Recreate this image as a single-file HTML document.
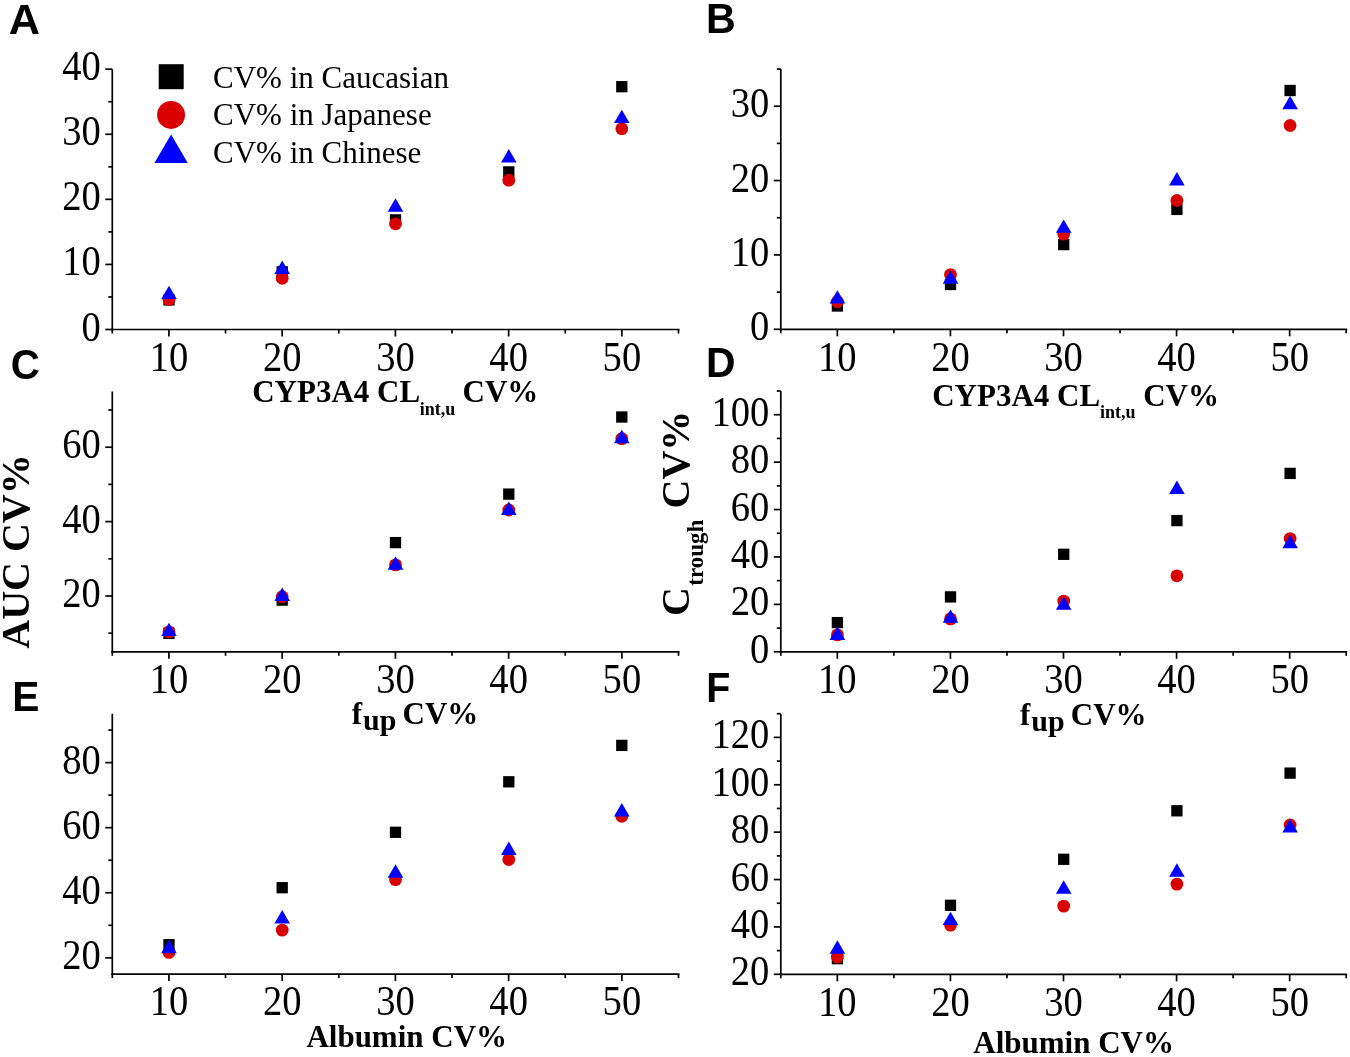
<!DOCTYPE html>
<html><head><meta charset="utf-8"><style>
html,body{margin:0;padding:0;background:#fff;}
body{width:1350px;height:1057px;overflow:hidden;}
svg{display:block;will-change:transform;}
.tk{font-family:"Liberation Serif",serif;font-size:41.5px;fill:#000;stroke:none;}
.lg{font-family:"Liberation Serif",serif;font-size:31px;fill:#000;}
.ti{font-family:"Liberation Serif",serif;font-weight:bold;font-size:31px;fill:#000;}
.pl{font-family:"Liberation Sans",sans-serif;font-weight:bold;font-size:43.3px;fill:#000;}
</style></head><body>
<svg width="1350" height="1057" viewBox="0 0 1350 1057">
<rect width="1350" height="1057" fill="#fff"/>
<g stroke="#000" stroke-width="1.7" fill="none" stroke-linecap="butt">
<line x1="112.3" y1="69.2" x2="112.3" y2="330.5" />
<line x1="111.3" y1="329.5" x2="679.5" y2="329.5" />
<line x1="112.30" y1="329.5" x2="112.30" y2="333.5" />
<line x1="168.92" y1="329.5" x2="168.92" y2="336.5" />
<text class="tk" transform="translate(168.92 370.80) scale(0.929 1)" text-anchor="middle">10</text>
<line x1="225.54" y1="329.5" x2="225.54" y2="333.5" />
<line x1="282.16" y1="329.5" x2="282.16" y2="336.5" />
<text class="tk" transform="translate(282.16 370.80) scale(0.929 1)" text-anchor="middle">20</text>
<line x1="338.78" y1="329.5" x2="338.78" y2="333.5" />
<line x1="395.40" y1="329.5" x2="395.40" y2="336.5" />
<text class="tk" transform="translate(395.40 370.80) scale(0.929 1)" text-anchor="middle">30</text>
<line x1="452.02" y1="329.5" x2="452.02" y2="333.5" />
<line x1="508.64" y1="329.5" x2="508.64" y2="336.5" />
<text class="tk" transform="translate(508.64 370.80) scale(0.929 1)" text-anchor="middle">40</text>
<line x1="565.26" y1="329.5" x2="565.26" y2="333.5" />
<line x1="621.88" y1="329.5" x2="621.88" y2="336.5" />
<text class="tk" transform="translate(621.88 370.80) scale(0.929 1)" text-anchor="middle">50</text>
<line x1="678.50" y1="329.5" x2="678.50" y2="333.5" />
<line x1="105.3" y1="329.50" x2="112.3" y2="329.50" />
<text class="tk" transform="translate(100.80 340.50) scale(0.929 1)" text-anchor="end">0</text>
<line x1="108.3" y1="296.96" x2="112.3" y2="296.96" />
<line x1="105.3" y1="264.43" x2="112.3" y2="264.43" />
<text class="tk" transform="translate(100.80 275.43) scale(0.929 1)" text-anchor="end">10</text>
<line x1="108.3" y1="231.89" x2="112.3" y2="231.89" />
<line x1="105.3" y1="199.35" x2="112.3" y2="199.35" />
<text class="tk" transform="translate(100.80 210.35) scale(0.929 1)" text-anchor="end">20</text>
<line x1="108.3" y1="166.81" x2="112.3" y2="166.81" />
<line x1="105.3" y1="134.27" x2="112.3" y2="134.27" />
<text class="tk" transform="translate(100.80 145.27) scale(0.929 1)" text-anchor="end">30</text>
<line x1="108.3" y1="101.74" x2="112.3" y2="101.74" />
<line x1="105.3" y1="69.20" x2="112.3" y2="69.20" />
<text class="tk" transform="translate(100.80 80.20) scale(0.929 1)" text-anchor="end">40</text>
<line x1="780.8" y1="69.0" x2="780.8" y2="330.3" />
<line x1="779.8" y1="329.3" x2="1347.2" y2="329.3" />
<line x1="780.80" y1="329.3" x2="780.80" y2="333.3" />
<line x1="837.34" y1="329.3" x2="837.34" y2="336.3" />
<text class="tk" transform="translate(837.34 370.60) scale(0.929 1)" text-anchor="middle">10</text>
<line x1="893.88" y1="329.3" x2="893.88" y2="333.3" />
<line x1="950.42" y1="329.3" x2="950.42" y2="336.3" />
<text class="tk" transform="translate(950.42 370.60) scale(0.929 1)" text-anchor="middle">20</text>
<line x1="1006.96" y1="329.3" x2="1006.96" y2="333.3" />
<line x1="1063.50" y1="329.3" x2="1063.50" y2="336.3" />
<text class="tk" transform="translate(1063.50 370.60) scale(0.929 1)" text-anchor="middle">30</text>
<line x1="1120.04" y1="329.3" x2="1120.04" y2="333.3" />
<line x1="1176.58" y1="329.3" x2="1176.58" y2="336.3" />
<text class="tk" transform="translate(1176.58 370.60) scale(0.929 1)" text-anchor="middle">40</text>
<line x1="1233.12" y1="329.3" x2="1233.12" y2="333.3" />
<line x1="1289.66" y1="329.3" x2="1289.66" y2="336.3" />
<text class="tk" transform="translate(1289.66 370.60) scale(0.929 1)" text-anchor="middle">50</text>
<line x1="1346.20" y1="329.3" x2="1346.20" y2="333.3" />
<line x1="773.8" y1="329.30" x2="780.8" y2="329.30" />
<text class="tk" transform="translate(769.30 340.30) scale(0.929 1)" text-anchor="end">0</text>
<line x1="776.8" y1="292.11" x2="780.8" y2="292.11" />
<line x1="773.8" y1="254.93" x2="780.8" y2="254.93" />
<text class="tk" transform="translate(769.30 265.93) scale(0.929 1)" text-anchor="end">10</text>
<line x1="776.8" y1="217.74" x2="780.8" y2="217.74" />
<line x1="773.8" y1="180.56" x2="780.8" y2="180.56" />
<text class="tk" transform="translate(769.30 191.56) scale(0.929 1)" text-anchor="end">20</text>
<line x1="776.8" y1="143.37" x2="780.8" y2="143.37" />
<line x1="773.8" y1="106.19" x2="780.8" y2="106.19" />
<text class="tk" transform="translate(769.30 117.19) scale(0.929 1)" text-anchor="end">30</text>
<line x1="776.8" y1="69.00" x2="780.8" y2="69.00" />
<line x1="112.3" y1="391.4" x2="112.3" y2="652.8" />
<line x1="111.3" y1="651.8" x2="679.5" y2="651.8" />
<line x1="112.30" y1="651.8" x2="112.30" y2="655.8" />
<line x1="168.92" y1="651.8" x2="168.92" y2="658.8" />
<text class="tk" transform="translate(168.92 693.10) scale(0.929 1)" text-anchor="middle">10</text>
<line x1="225.54" y1="651.8" x2="225.54" y2="655.8" />
<line x1="282.16" y1="651.8" x2="282.16" y2="658.8" />
<text class="tk" transform="translate(282.16 693.10) scale(0.929 1)" text-anchor="middle">20</text>
<line x1="338.78" y1="651.8" x2="338.78" y2="655.8" />
<line x1="395.40" y1="651.8" x2="395.40" y2="658.8" />
<text class="tk" transform="translate(395.40 693.10) scale(0.929 1)" text-anchor="middle">30</text>
<line x1="452.02" y1="651.8" x2="452.02" y2="655.8" />
<line x1="508.64" y1="651.8" x2="508.64" y2="658.8" />
<text class="tk" transform="translate(508.64 693.10) scale(0.929 1)" text-anchor="middle">40</text>
<line x1="565.26" y1="651.8" x2="565.26" y2="655.8" />
<line x1="621.88" y1="651.8" x2="621.88" y2="658.8" />
<text class="tk" transform="translate(621.88 693.10) scale(0.929 1)" text-anchor="middle">50</text>
<line x1="678.50" y1="651.8" x2="678.50" y2="655.8" />
<line x1="108.3" y1="633.20" x2="112.3" y2="633.20" />
<line x1="105.3" y1="596.00" x2="112.3" y2="596.00" />
<text class="tk" transform="translate(100.80 607.00) scale(0.929 1)" text-anchor="end">20</text>
<line x1="108.3" y1="558.80" x2="112.3" y2="558.80" />
<line x1="105.3" y1="521.60" x2="112.3" y2="521.60" />
<text class="tk" transform="translate(100.80 532.60) scale(0.929 1)" text-anchor="end">40</text>
<line x1="108.3" y1="484.40" x2="112.3" y2="484.40" />
<line x1="105.3" y1="447.20" x2="112.3" y2="447.20" />
<text class="tk" transform="translate(100.80 458.20) scale(0.929 1)" text-anchor="end">60</text>
<line x1="108.3" y1="410.00" x2="112.3" y2="410.00" />
<line x1="780.8" y1="391.0" x2="780.8" y2="652.8" />
<line x1="779.8" y1="651.8" x2="1347.2" y2="651.8" />
<line x1="780.80" y1="651.8" x2="780.80" y2="655.8" />
<line x1="837.34" y1="651.8" x2="837.34" y2="658.8" />
<text class="tk" transform="translate(837.34 693.10) scale(0.929 1)" text-anchor="middle">10</text>
<line x1="893.88" y1="651.8" x2="893.88" y2="655.8" />
<line x1="950.42" y1="651.8" x2="950.42" y2="658.8" />
<text class="tk" transform="translate(950.42 693.10) scale(0.929 1)" text-anchor="middle">20</text>
<line x1="1006.96" y1="651.8" x2="1006.96" y2="655.8" />
<line x1="1063.50" y1="651.8" x2="1063.50" y2="658.8" />
<text class="tk" transform="translate(1063.50 693.10) scale(0.929 1)" text-anchor="middle">30</text>
<line x1="1120.04" y1="651.8" x2="1120.04" y2="655.8" />
<line x1="1176.58" y1="651.8" x2="1176.58" y2="658.8" />
<text class="tk" transform="translate(1176.58 693.10) scale(0.929 1)" text-anchor="middle">40</text>
<line x1="1233.12" y1="651.8" x2="1233.12" y2="655.8" />
<line x1="1289.66" y1="651.8" x2="1289.66" y2="658.8" />
<text class="tk" transform="translate(1289.66 693.10) scale(0.929 1)" text-anchor="middle">50</text>
<line x1="1346.20" y1="651.8" x2="1346.20" y2="655.8" />
<line x1="773.8" y1="651.80" x2="780.8" y2="651.80" />
<text class="tk" transform="translate(769.30 662.80) scale(0.929 1)" text-anchor="end">0</text>
<line x1="776.8" y1="628.09" x2="780.8" y2="628.09" />
<line x1="773.8" y1="604.38" x2="780.8" y2="604.38" />
<text class="tk" transform="translate(769.30 615.38) scale(0.929 1)" text-anchor="end">20</text>
<line x1="776.8" y1="580.67" x2="780.8" y2="580.67" />
<line x1="773.8" y1="556.96" x2="780.8" y2="556.96" />
<text class="tk" transform="translate(769.30 567.96) scale(0.929 1)" text-anchor="end">40</text>
<line x1="776.8" y1="533.25" x2="780.8" y2="533.25" />
<line x1="773.8" y1="509.55" x2="780.8" y2="509.55" />
<text class="tk" transform="translate(769.30 520.55) scale(0.929 1)" text-anchor="end">60</text>
<line x1="776.8" y1="485.84" x2="780.8" y2="485.84" />
<line x1="773.8" y1="462.13" x2="780.8" y2="462.13" />
<text class="tk" transform="translate(769.30 473.13) scale(0.929 1)" text-anchor="end">80</text>
<line x1="776.8" y1="438.42" x2="780.8" y2="438.42" />
<line x1="773.8" y1="414.71" x2="780.8" y2="414.71" />
<text class="tk" transform="translate(769.30 425.71) scale(0.929 1)" text-anchor="end">100</text>
<line x1="776.8" y1="391.00" x2="780.8" y2="391.00" />
<line x1="112.3" y1="713.8" x2="112.3" y2="975.1" />
<line x1="111.3" y1="974.1" x2="679.5" y2="974.1" />
<line x1="112.30" y1="974.1" x2="112.30" y2="978.1" />
<line x1="168.92" y1="974.1" x2="168.92" y2="981.1" />
<text class="tk" transform="translate(168.92 1015.40) scale(0.929 1)" text-anchor="middle">10</text>
<line x1="225.54" y1="974.1" x2="225.54" y2="978.1" />
<line x1="282.16" y1="974.1" x2="282.16" y2="981.1" />
<text class="tk" transform="translate(282.16 1015.40) scale(0.929 1)" text-anchor="middle">20</text>
<line x1="338.78" y1="974.1" x2="338.78" y2="978.1" />
<line x1="395.40" y1="974.1" x2="395.40" y2="981.1" />
<text class="tk" transform="translate(395.40 1015.40) scale(0.929 1)" text-anchor="middle">30</text>
<line x1="452.02" y1="974.1" x2="452.02" y2="978.1" />
<line x1="508.64" y1="974.1" x2="508.64" y2="981.1" />
<text class="tk" transform="translate(508.64 1015.40) scale(0.929 1)" text-anchor="middle">40</text>
<line x1="565.26" y1="974.1" x2="565.26" y2="978.1" />
<line x1="621.88" y1="974.1" x2="621.88" y2="981.1" />
<text class="tk" transform="translate(621.88 1015.40) scale(0.929 1)" text-anchor="middle">50</text>
<line x1="678.50" y1="974.1" x2="678.50" y2="978.1" />
<line x1="105.3" y1="957.83" x2="112.3" y2="957.83" />
<text class="tk" transform="translate(100.80 968.83) scale(0.929 1)" text-anchor="end">20</text>
<line x1="108.3" y1="925.29" x2="112.3" y2="925.29" />
<line x1="105.3" y1="892.76" x2="112.3" y2="892.76" />
<text class="tk" transform="translate(100.80 903.76) scale(0.929 1)" text-anchor="end">40</text>
<line x1="108.3" y1="860.22" x2="112.3" y2="860.22" />
<line x1="105.3" y1="827.68" x2="112.3" y2="827.68" />
<text class="tk" transform="translate(100.80 838.68) scale(0.929 1)" text-anchor="end">60</text>
<line x1="108.3" y1="795.14" x2="112.3" y2="795.14" />
<line x1="105.3" y1="762.61" x2="112.3" y2="762.61" />
<text class="tk" transform="translate(100.80 773.61) scale(0.929 1)" text-anchor="end">80</text>
<line x1="108.3" y1="730.07" x2="112.3" y2="730.07" />
<line x1="780.8" y1="713.7" x2="780.8" y2="975.3" />
<line x1="779.8" y1="974.3" x2="1347.2" y2="974.3" />
<line x1="780.80" y1="974.3" x2="780.80" y2="978.3" />
<line x1="837.34" y1="974.3" x2="837.34" y2="981.3" />
<text class="tk" transform="translate(837.34 1015.60) scale(0.929 1)" text-anchor="middle">10</text>
<line x1="893.88" y1="974.3" x2="893.88" y2="978.3" />
<line x1="950.42" y1="974.3" x2="950.42" y2="981.3" />
<text class="tk" transform="translate(950.42 1015.60) scale(0.929 1)" text-anchor="middle">20</text>
<line x1="1006.96" y1="974.3" x2="1006.96" y2="978.3" />
<line x1="1063.50" y1="974.3" x2="1063.50" y2="981.3" />
<text class="tk" transform="translate(1063.50 1015.60) scale(0.929 1)" text-anchor="middle">30</text>
<line x1="1120.04" y1="974.3" x2="1120.04" y2="978.3" />
<line x1="1176.58" y1="974.3" x2="1176.58" y2="981.3" />
<text class="tk" transform="translate(1176.58 1015.60) scale(0.929 1)" text-anchor="middle">40</text>
<line x1="1233.12" y1="974.3" x2="1233.12" y2="978.3" />
<line x1="1289.66" y1="974.3" x2="1289.66" y2="981.3" />
<text class="tk" transform="translate(1289.66 1015.60) scale(0.929 1)" text-anchor="middle">50</text>
<line x1="1346.20" y1="974.3" x2="1346.20" y2="978.3" />
<line x1="773.8" y1="974.30" x2="780.8" y2="974.30" />
<text class="tk" transform="translate(769.30 985.30) scale(0.929 1)" text-anchor="end">20</text>
<line x1="776.8" y1="950.61" x2="780.8" y2="950.61" />
<line x1="773.8" y1="926.92" x2="780.8" y2="926.92" />
<text class="tk" transform="translate(769.30 937.92) scale(0.929 1)" text-anchor="end">40</text>
<line x1="776.8" y1="903.23" x2="780.8" y2="903.23" />
<line x1="773.8" y1="879.54" x2="780.8" y2="879.54" />
<text class="tk" transform="translate(769.30 890.54) scale(0.929 1)" text-anchor="end">60</text>
<line x1="776.8" y1="855.85" x2="780.8" y2="855.85" />
<line x1="773.8" y1="832.15" x2="780.8" y2="832.15" />
<text class="tk" transform="translate(769.30 843.15) scale(0.929 1)" text-anchor="end">80</text>
<line x1="776.8" y1="808.46" x2="780.8" y2="808.46" />
<line x1="773.8" y1="784.77" x2="780.8" y2="784.77" />
<text class="tk" transform="translate(769.30 795.77) scale(0.929 1)" text-anchor="end">100</text>
<line x1="776.8" y1="761.08" x2="780.8" y2="761.08" />
<line x1="773.8" y1="737.39" x2="780.8" y2="737.39" />
<text class="tk" transform="translate(769.30 748.39) scale(0.929 1)" text-anchor="end">120</text>
<line x1="776.8" y1="713.70" x2="780.8" y2="713.70" />
</g>
<g stroke="none">
<text class="pl" transform="translate(8.72 34.1) scale(1.0 1)">A</text>
<text class="pl" transform="translate(706.05 32.6) scale(0.95 1)">B</text>
<text class="pl" transform="translate(10.75 379.3) scale(0.93 1)">C</text>
<text class="pl" transform="translate(706.06 376.7) scale(0.945 1)">D</text>
<text class="pl" transform="translate(12.28 710.9) scale(0.94 1)">E</text>
<text class="pl" transform="translate(706.16 702.4) scale(0.91 1)">F</text>
<rect x="158.7" y="64.2" width="25" height="25" fill="#000"/>
<circle cx="171.05" cy="114.95" r="13.95" fill="#d80000"/>
<path d="M171.1 134.4 L187.8 163 L154.4 163 Z" fill="#0000ff"/>
<text class="lg" x="213" y="87.8">CV% in Caucasian</text>
<text class="lg" x="213" y="125.1">CV% in Japanese</text>
<text class="lg" x="213" y="162.6">CV% in Chinese</text>
<text class="ti" x="252.2" y="402">CYP3A4 CL</text><text class="ti" style="font-size:18px" x="419.7" y="414.6">int,u</text><text class="ti" x="462.5" y="402">CV%</text>
<text class="ti" x="932.2" y="406">CYP3A4 CL</text><text class="ti" style="font-size:18px" x="1099.9" y="418.1">int,u</text><text class="ti" x="1143.2" y="406">CV%</text>
<text class="ti" x="351.7" y="724.1">f</text><text class="ti" style="font-size:30px" x="363.0" y="730.3">up</text><text class="ti" x="402.6" y="724.1">CV%</text>
<text class="ti" x="1019.9" y="724.6">f</text><text class="ti" style="font-size:30px" x="1031.3" y="730.9">up</text><text class="ti" x="1070.8" y="724.6">CV%</text>
<text class="ti" x="306.4" y="1046.6">Albumin CV%</text>
<text class="ti" x="973.3" y="1053.4">Albumin CV%</text>
<text class="ti" style="font-size:40px" transform="translate(29.2 648.7) rotate(-90)">AUC CV%</text>
<text class="ti" style="font-size:40px" transform="translate(689 616.1) rotate(-90)">C</text>
<text class="ti" style="font-size:23px" transform="translate(702.6 585.7) rotate(-90)">trough</text>
<text class="ti" style="font-size:40px" transform="translate(689 508.5) rotate(-90)">CV%</text>
<rect x="163.35" y="294.25" width="11.3" height="11.3" fill="#000"/>
<rect x="276.55" y="266.15" width="11.3" height="11.3" fill="#000"/>
<rect x="389.85" y="214.25" width="11.3" height="11.3" fill="#000"/>
<rect x="503.15" y="166.25" width="11.3" height="11.3" fill="#000"/>
<rect x="616.15" y="81.05" width="11.3" height="11.3" fill="#000"/>
<circle cx="169.00" cy="299.50" r="6.4" fill="#d80000"/>
<circle cx="282.20" cy="278.30" r="6.4" fill="#d80000"/>
<circle cx="395.50" cy="223.80" r="6.4" fill="#d80000"/>
<circle cx="508.80" cy="180.20" r="6.4" fill="#d80000"/>
<circle cx="621.80" cy="128.70" r="6.4" fill="#d80000"/>
<path d="M169.00 285.70 L176.80 299.10 L161.20 299.10 Z" fill="#0000ff"/>
<path d="M282.20 260.60 L290.00 274.00 L274.40 274.00 Z" fill="#0000ff"/>
<path d="M395.50 198.30 L403.30 211.70 L387.70 211.70 Z" fill="#0000ff"/>
<path d="M508.80 149.00 L516.60 162.40 L501.00 162.40 Z" fill="#0000ff"/>
<path d="M621.80 109.70 L629.60 123.10 L614.00 123.10 Z" fill="#0000ff"/>
<rect x="831.75" y="300.35" width="11.3" height="11.3" fill="#000"/>
<rect x="944.85" y="278.85" width="11.3" height="11.3" fill="#000"/>
<rect x="1058.05" y="238.95" width="11.3" height="11.3" fill="#000"/>
<rect x="1171.25" y="203.75" width="11.3" height="11.3" fill="#000"/>
<rect x="1284.45" y="84.85" width="11.3" height="11.3" fill="#000"/>
<circle cx="837.40" cy="301.60" r="6.4" fill="#d80000"/>
<circle cx="950.50" cy="274.60" r="6.4" fill="#d80000"/>
<circle cx="1063.70" cy="234.10" r="6.4" fill="#d80000"/>
<circle cx="1176.90" cy="200.50" r="6.4" fill="#d80000"/>
<circle cx="1290.10" cy="125.50" r="6.4" fill="#d80000"/>
<path d="M837.40 290.20 L845.20 303.60 L829.60 303.60 Z" fill="#0000ff"/>
<path d="M950.50 270.40 L958.30 283.80 L942.70 283.80 Z" fill="#0000ff"/>
<path d="M1063.70 219.40 L1071.50 232.80 L1055.90 232.80 Z" fill="#0000ff"/>
<path d="M1176.90 172.00 L1184.70 185.40 L1169.10 185.40 Z" fill="#0000ff"/>
<path d="M1290.10 95.80 L1297.90 109.20 L1282.30 109.20 Z" fill="#0000ff"/>
<rect x="163.35" y="627.75" width="11.3" height="11.3" fill="#000"/>
<rect x="276.55" y="594.45" width="11.3" height="11.3" fill="#000"/>
<rect x="389.85" y="536.95" width="11.3" height="11.3" fill="#000"/>
<rect x="503.15" y="488.45" width="11.3" height="11.3" fill="#000"/>
<rect x="616.15" y="411.35" width="11.3" height="11.3" fill="#000"/>
<circle cx="169.00" cy="631.80" r="6.4" fill="#d80000"/>
<circle cx="282.20" cy="596.70" r="6.4" fill="#d80000"/>
<circle cx="395.50" cy="564.90" r="6.4" fill="#d80000"/>
<circle cx="508.80" cy="510.00" r="6.4" fill="#d80000"/>
<circle cx="621.80" cy="438.60" r="6.4" fill="#d80000"/>
<path d="M169.00 622.70 L176.80 636.10 L161.20 636.10 Z" fill="#0000ff"/>
<path d="M282.20 587.60 L290.00 601.00 L274.40 601.00 Z" fill="#0000ff"/>
<path d="M395.50 556.30 L403.30 569.70 L387.70 569.70 Z" fill="#0000ff"/>
<path d="M508.80 501.50 L516.60 514.90 L501.00 514.90 Z" fill="#0000ff"/>
<path d="M621.80 429.80 L629.60 443.20 L614.00 443.20 Z" fill="#0000ff"/>
<rect x="831.75" y="616.95" width="11.3" height="11.3" fill="#000"/>
<rect x="944.85" y="591.25" width="11.3" height="11.3" fill="#000"/>
<rect x="1058.05" y="548.65" width="11.3" height="11.3" fill="#000"/>
<rect x="1171.25" y="514.95" width="11.3" height="11.3" fill="#000"/>
<rect x="1284.45" y="467.75" width="11.3" height="11.3" fill="#000"/>
<circle cx="837.40" cy="634.90" r="6.4" fill="#d80000"/>
<circle cx="950.50" cy="618.90" r="6.4" fill="#d80000"/>
<circle cx="1063.70" cy="601.10" r="6.4" fill="#d80000"/>
<circle cx="1176.90" cy="575.80" r="6.4" fill="#d80000"/>
<circle cx="1290.10" cy="538.60" r="6.4" fill="#d80000"/>
<path d="M837.40 626.50 L845.20 639.90 L829.60 639.90 Z" fill="#0000ff"/>
<path d="M950.50 609.40 L958.30 622.80 L942.70 622.80 Z" fill="#0000ff"/>
<path d="M1063.70 596.40 L1071.50 609.80 L1055.90 609.80 Z" fill="#0000ff"/>
<path d="M1176.90 480.50 L1184.70 493.90 L1169.10 493.90 Z" fill="#0000ff"/>
<path d="M1290.10 534.90 L1297.90 548.30 L1282.30 548.30 Z" fill="#0000ff"/>
<rect x="163.35" y="939.05" width="11.3" height="11.3" fill="#000"/>
<rect x="276.55" y="882.05" width="11.3" height="11.3" fill="#000"/>
<rect x="389.85" y="826.65" width="11.3" height="11.3" fill="#000"/>
<rect x="503.15" y="776.15" width="11.3" height="11.3" fill="#000"/>
<rect x="616.15" y="739.75" width="11.3" height="11.3" fill="#000"/>
<circle cx="169.00" cy="952.40" r="6.4" fill="#d80000"/>
<circle cx="282.20" cy="930.10" r="6.4" fill="#d80000"/>
<circle cx="395.50" cy="879.60" r="6.4" fill="#d80000"/>
<circle cx="508.80" cy="859.50" r="6.4" fill="#d80000"/>
<circle cx="621.80" cy="816.30" r="6.4" fill="#d80000"/>
<path d="M169.00 939.80 L176.80 953.20 L161.20 953.20 Z" fill="#0000ff"/>
<path d="M282.20 910.00 L290.00 923.40 L274.40 923.40 Z" fill="#0000ff"/>
<path d="M395.50 864.30 L403.30 877.70 L387.70 877.70 Z" fill="#0000ff"/>
<path d="M508.80 841.60 L516.60 855.00 L501.00 855.00 Z" fill="#0000ff"/>
<path d="M621.80 803.10 L629.60 816.50 L614.00 816.50 Z" fill="#0000ff"/>
<rect x="831.75" y="953.05" width="11.3" height="11.3" fill="#000"/>
<rect x="944.85" y="899.65" width="11.3" height="11.3" fill="#000"/>
<rect x="1058.05" y="853.65" width="11.3" height="11.3" fill="#000"/>
<rect x="1171.25" y="805.15" width="11.3" height="11.3" fill="#000"/>
<rect x="1284.45" y="767.45" width="11.3" height="11.3" fill="#000"/>
<circle cx="837.40" cy="957.10" r="6.4" fill="#d80000"/>
<circle cx="950.50" cy="925.10" r="6.4" fill="#d80000"/>
<circle cx="1063.70" cy="906.10" r="6.4" fill="#d80000"/>
<circle cx="1176.90" cy="884.10" r="6.4" fill="#d80000"/>
<circle cx="1290.10" cy="825.00" r="6.4" fill="#d80000"/>
<path d="M837.40 940.30 L845.20 953.70 L829.60 953.70 Z" fill="#0000ff"/>
<path d="M950.50 911.70 L958.30 925.10 L942.70 925.10 Z" fill="#0000ff"/>
<path d="M1063.70 880.30 L1071.50 893.70 L1055.90 893.70 Z" fill="#0000ff"/>
<path d="M1176.90 863.30 L1184.70 876.70 L1169.10 876.70 Z" fill="#0000ff"/>
<path d="M1290.10 819.00 L1297.90 832.40 L1282.30 832.40 Z" fill="#0000ff"/>
</g>
</svg></body></html>
